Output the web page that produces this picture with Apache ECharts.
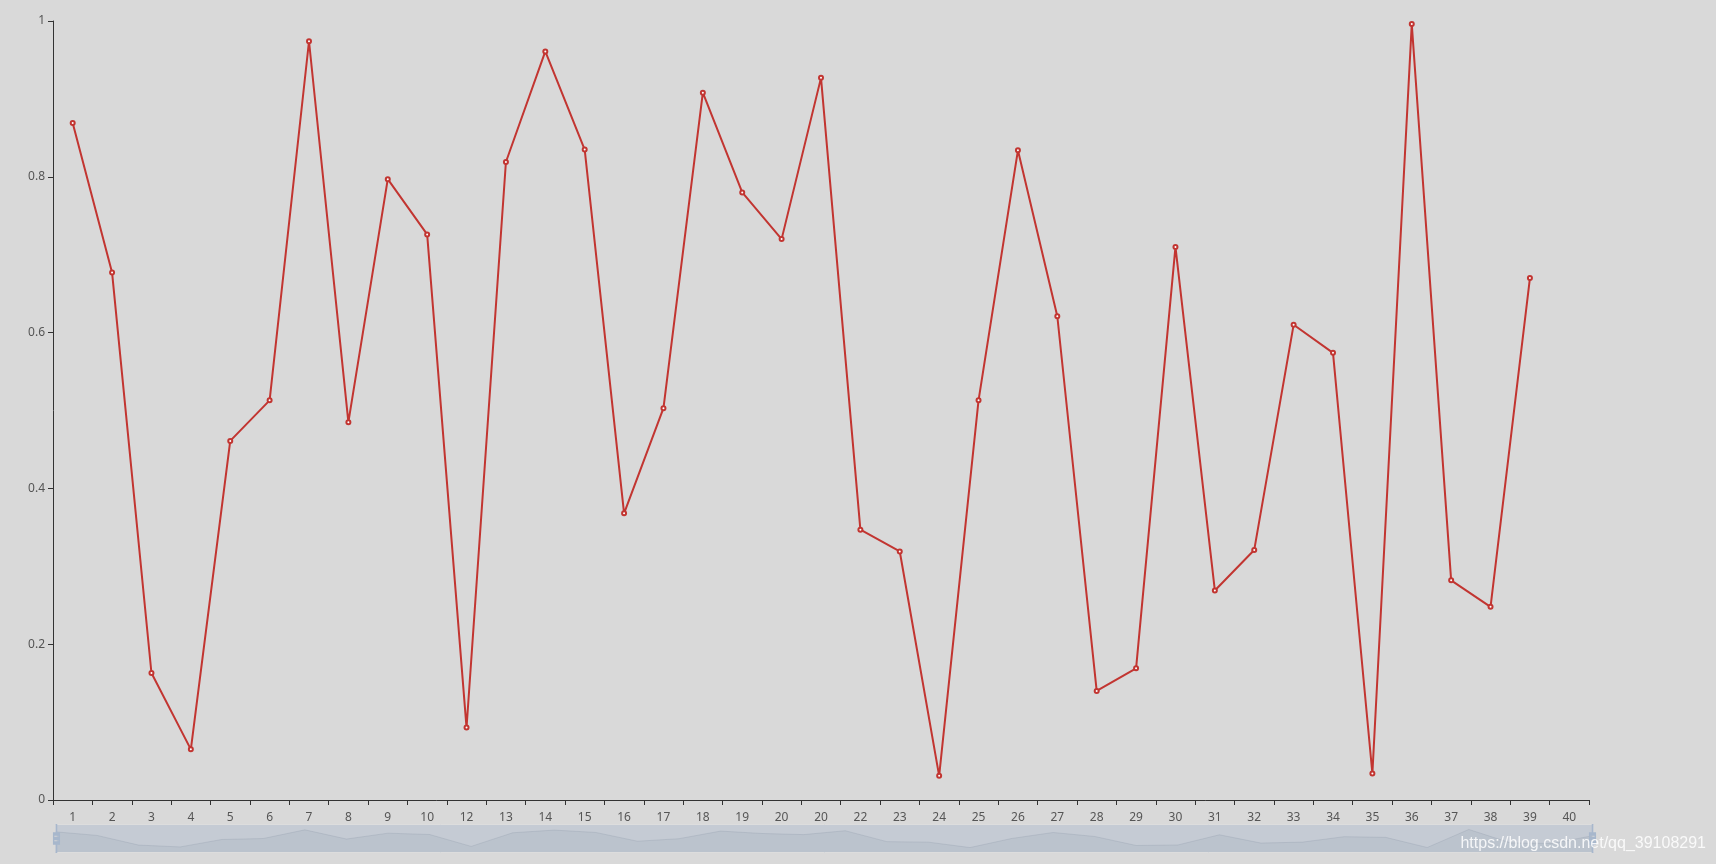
<!DOCTYPE html>
<html>
<head>
<meta charset="utf-8">
<style>
  html, body { margin: 0; padding: 0; background: #d9d9d9; }
  #chart { width: 1716px; height: 864px; }
</style>
<script src="https://cdn.jsdelivr.net/npm/echarts@6/dist/echarts.min.js"></script>
</head>
<body>
<div id="chart"></div>
<script>
// Category labels as printed on the x axis (note: "11" and "21" are not present; "20" appears twice)
const categories = ['1','2','3','4','5','6','7','8','9','10','12','13','14','15','16','17','18','19','20','20',
  '22','23','24','25','26','27','28','29','30','31','32','33','34','35','36','37','38','39','40'];

// Series values (38 points)
const values = [0.869, 0.677, 0.163, 0.065, 0.461, 0.513, 0.974, 0.485, 0.797, 0.726,
  0.093, 0.819, 0.961, 0.835, 0.368, 0.503, 0.908, 0.780, 0.720, 0.927,
  0.347, 0.319, 0.031, 0.513, 0.834, 0.621, 0.140, 0.169, 0.710, 0.269,
  0.321, 0.610, 0.574, 0.034, 0.996, 0.282, 0.248, 0.670];

const yMin = 0, yMax = 1, yInterval = 0.2;
const watermark = 'https://blog.csdn.net/qq_39108291';

const chart = echarts.init(document.getElementById('chart'));
const fontFamily = '"Noto Sans", "Open Sans", sans-serif';

chart.setOption({
  backgroundColor: '#d9d9d9',
  animation: false,
  grid: { left: 53, top: 21, right: 127, bottom: 64, containLabel: false },
  xAxis: {
    type: 'category',
    data: categories,
    boundaryGap: true,
    axisLine: { lineStyle: { color: '#333', width: 1 } },
    axisTick: { show: true, length: 5, lineStyle: { color: '#333' } },
    axisLabel: { interval: 0, color: '#555', fontSize: 12, fontFamily: fontFamily, margin: 12 },
    splitLine: { show: false }
  },
  yAxis: {
    type: 'value',
    min: yMin, max: yMax, interval: yInterval,
    axisLine: { show: true, lineStyle: { color: '#333', width: 1 } },
    axisTick: { show: true, length: 5, lineStyle: { color: '#333' } },
    axisLabel: { color: '#555', fontSize: 12, fontFamily: fontFamily, margin: 8 },
    splitLine: { show: false }
  },
  dataZoom: [{
    type: 'slider',
    xAxisIndex: 0,
    start: 0, end: 100,
    left: 53, right: 125, top: 824, height: 29,
    backgroundColor: 'rgba(47,69,84,0)',
    borderColor: '#ddd',
    fillerColor: 'rgba(167,183,204,0.4)',
    showDetail: false,
    brushSelect: false,
    moveHandleSize: 0,
    handleIcon: 'path://M8.2,13.6V3.9H6.3v9.7H3.1v14.9h3.3v9.7h1.8v-9.7h3.3V13.6H8.2z M9.7,24.4H4.8v-1.4h4.9V24.4z M9.7,19.1H4.8v-1.4h4.9V19.1z',
    handleSize: '100%',
    handleStyle: { color: '#a7b7cc', borderColor: '#a7b7cc', borderWidth: 0 },
    dataBackground: {
      lineStyle: { color: '#2f4554', width: 0.5, opacity: 0.3 },
      areaStyle: { color: 'rgba(47,69,84,0.3)', opacity: 0.3 }
    },
    selectedDataBackground: {
      lineStyle: { color: '#2f4554', width: 0.5, opacity: 0.3 },
      areaStyle: { color: 'rgba(47,69,84,0.3)', opacity: 0.3 }
    }
  }],
  series: [{
    type: 'line',
    data: values,
    symbol: 'emptyCircle',
    symbolSize: 4,
    showSymbol: true,
    itemStyle: { color: '#c23531', borderWidth: 1 },
    lineStyle: { color: '#c23531', width: 2 }
  }],
  graphic: [{
    type: 'text',
    right: 10,
    top: 836,
    z: 100,
    style: {
      text: watermark,
      fill: 'rgba(255,255,255,0.85)',
      font: '16px "Liberation Sans", Arial, sans-serif',
      shadowColor: 'rgba(0,0,0,0.35)',
      shadowBlur: 2,
      shadowOffsetX: 1,
      shadowOffsetY: 1
    }
  }]
});
</script>
</body>
</html>
